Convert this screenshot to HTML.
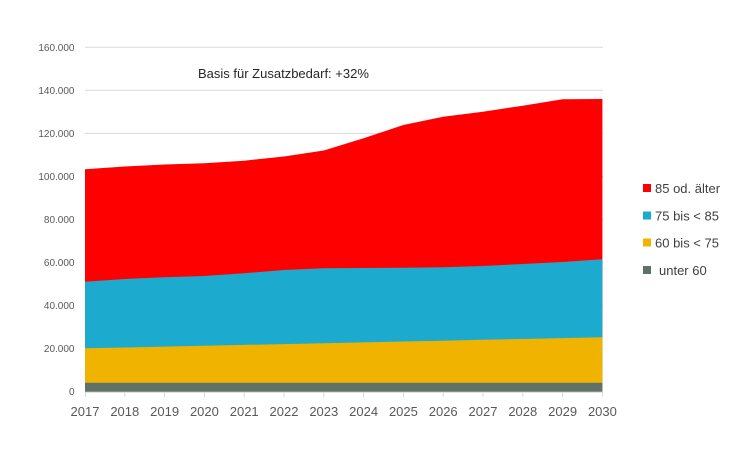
<!DOCTYPE html>
<html>
<head>
<meta charset="utf-8">
<style>
html,body{margin:0;padding:0;background:#fff;}
body{width:750px;height:459px;overflow:hidden;}
svg{display:block;}
text{font-family:"Liberation Sans",Arial,sans-serif;}
</style>
</head>
<body>
<svg width="750" height="459" viewBox="0 0 750 459" xmlns="http://www.w3.org/2000/svg">
  <rect width="750" height="459" fill="#fff"/>
  <!-- gridlines -->
  <g stroke="#d9d9d9" stroke-width="1">
    <line x1="85" y1="47.3" x2="603" y2="47.3"/>
    <line x1="85" y1="90.3" x2="603" y2="90.3"/>
    <line x1="85" y1="133.4" x2="603" y2="133.4"/>
    <line x1="85" y1="176.5" x2="603" y2="176.5"/>
    <line x1="85" y1="219.5" x2="603" y2="219.5"/>
    <line x1="85" y1="262.6" x2="603" y2="262.6"/>
    <line x1="85" y1="305.6" x2="603" y2="305.6"/>
    <line x1="85" y1="348.6" x2="603" y2="348.6"/>
  </g>
  <!-- areas -->
  <polygon fill="#ff0000" points="85,169.3 124.8,166.5 164.6,164.5 204.4,163.3 244.2,160.7 284,156.5 323.8,150.5 363.6,138.3 403.4,125 443.2,116.7 483,111.7 522.8,105.7 562.6,99.3 602.4,99 602.4,391.7 85,391.7"/>
  <polygon fill="#1caacf" points="85,281.7 124.8,279 164.6,277.3 204.4,276 244.2,273.3 284,270 323.8,268.3 363.6,268 403.4,267.8 443.2,267.3 483,266 522.8,264 562.6,262 602.4,259.3 602.4,391.7 85,391.7"/>
  <polygon fill="#f0b400" points="85,348.3 124.8,347.5 164.6,346.6 204.4,345.8 244.2,344.9 284,344.1 323.8,343.2 363.6,342.4 403.4,341.5 443.2,340.7 483,339.8 522.8,339 562.6,338.1 602.4,337.3 602.4,391.7 85,391.7"/>
  <polygon fill="#5f7268" points="85,382.7 602.4,382.7 602.4,391.7 85,391.7"/>
  <!-- x axis -->
  <g stroke="#d9d9d9" stroke-width="1">
    <line x1="85" y1="392.2" x2="603" y2="392.2"/>
    <line x1="85.5" y1="392" x2="85.5" y2="397"/>
    <line x1="124.8" y1="392" x2="124.8" y2="397"/>
    <line x1="164.6" y1="392" x2="164.6" y2="397"/>
    <line x1="204.4" y1="392" x2="204.4" y2="397"/>
    <line x1="244.2" y1="392" x2="244.2" y2="397"/>
    <line x1="284" y1="392" x2="284" y2="397"/>
    <line x1="323.8" y1="392" x2="323.8" y2="397"/>
    <line x1="363.6" y1="392" x2="363.6" y2="397"/>
    <line x1="403.4" y1="392" x2="403.4" y2="397"/>
    <line x1="443.2" y1="392" x2="443.2" y2="397"/>
    <line x1="483" y1="392" x2="483" y2="397"/>
    <line x1="522.8" y1="392" x2="522.8" y2="397"/>
    <line x1="562.6" y1="392" x2="562.6" y2="397"/>
    <line x1="602.4" y1="392" x2="602.4" y2="397"/>
  </g>
  <!-- y labels -->
  <g fill="#595959" font-size="10" text-anchor="end">
    <text x="74.5" y="50.8">160.000</text>
    <text x="74.5" y="93.8">140.000</text>
    <text x="74.5" y="136.9">120.000</text>
    <text x="74.5" y="180">100.000</text>
    <text x="74.5" y="223">80.000</text>
    <text x="74.5" y="266.1">60.000</text>
    <text x="74.5" y="309.1">40.000</text>
    <text x="74.5" y="352.1">20.000</text>
    <text x="74.5" y="395.2">0</text>
  </g>
  <!-- x labels -->
  <g fill="#595959" font-size="13" text-anchor="middle">
    <text x="85" y="416">2017</text>
    <text x="124.8" y="416">2018</text>
    <text x="164.6" y="416">2019</text>
    <text x="204.4" y="416">2020</text>
    <text x="244.2" y="416">2021</text>
    <text x="284" y="416">2022</text>
    <text x="323.8" y="416">2023</text>
    <text x="363.6" y="416">2024</text>
    <text x="403.4" y="416">2025</text>
    <text x="443.2" y="416">2026</text>
    <text x="483" y="416">2027</text>
    <text x="522.8" y="416">2028</text>
    <text x="562.6" y="416">2029</text>
    <text x="602.4" y="416">2030</text>
  </g>
  <!-- title annotation -->
  <text x="198" y="78" font-size="13" fill="#262626">Basis für Zusatzbedarf: +32%</text>
  <!-- legend -->
  <rect x="643" y="184" width="8" height="8" fill="#ff0000"/>
  <rect x="643" y="211.5" width="8" height="8" fill="#1caacf"/>
  <rect x="643" y="238.5" width="8" height="8" fill="#f0b400"/>
  <rect x="643" y="266" width="8" height="8" fill="#5f7268"/>
  <g fill="#404040" font-size="13">
    <text x="655" y="193">85 od. älter</text>
    <text x="655" y="220.5">75 bis &lt; 85</text>
    <text x="655" y="247.5">60 bis &lt; 75</text>
    <text x="659" y="275">unter 60</text>
  </g>
</svg>
</body>
</html>
